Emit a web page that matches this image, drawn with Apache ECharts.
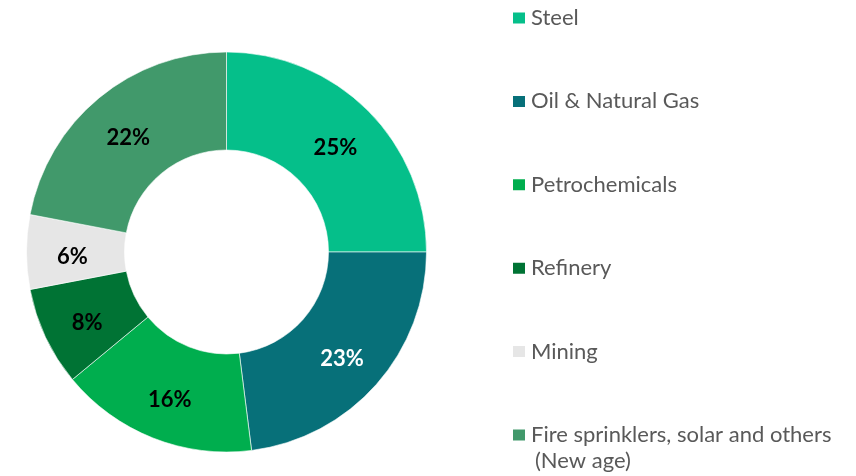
<!DOCTYPE html>
<html>
<head>
<meta charset="utf-8">
<script src="https://cdn.jsdelivr.net/npm/echarts@6/dist/echarts.min.js"></script>
<style>
  html, body { margin: 0; padding: 0; background: #fff; }
  #main { width: 856px; height: 476px; }
</style>
</head>
<body>
<div id="main"></div>
<script>
// segments, clockwise from 12 o'clock
var categories = ['Steel', 'Oil & Natural Gas', 'Petrochemicals', 'Refinery', 'Mining', 'Fire sprinklers, solar and others'];
var values = [25, 23, 16, 8, 6, 22];
var colors = ['#05BF8A', '#077079', '#00AE4E', '#007334', '#E6E6E6', '#41996B'];
var labelColors = ['#000', '#fff', '#000', '#000', '#000', '#000'];
var lastLine = '(New age)';

var chartDom = document.getElementById('main');
var myChart = echarts.init(chartDom);

var pieData = [];
for (var i = 0; i < categories.length; i++) {
  pieData.push({
    name: categories[i],
    value: values[i],
    itemStyle: {color: colors[i]},
    label: {color: labelColors[i]}
  });
}

var option = {
  animation: false,
  textStyle: {fontFamily: 'Lato'},
  legend: {
    orient: 'vertical',
    left: 511,
    top: 5,
    padding: 0,
    itemWidth: 14,
    itemHeight: 13,
    itemGap: 57.4,
    icon: 'rect',
    data: categories,
    textStyle: {fontSize: 22, lineHeight: 26, color: '#595959', fontFamily: 'Lato'}
  },
  graphic: [{
    type: 'text',
    left: 535,
    top: 450,
    style: {text: lastLine, fontSize: 22, fill: '#595959', fontFamily: 'Lato'}
  }],
  series: [{
    type: 'pie',
    center: [226.5, 252],
    radius: [102, 200],
    startAngle: 90,
    clockwise: true,
    itemStyle: {borderColor: '#fff', borderWidth: 0.6},
    label: {
      show: true,
      position: 'inside',
      formatter: '{c}%',
      fontSize: 22,
      fontWeight: 'bold',
      fontFamily: 'Lato',
      offset: [0, 5]
    },
    labelLine: {show: false},
    emphasis: {disabled: true},
    data: pieData
  }]
};

myChart.setOption(option);
</script>
</body>
</html>
